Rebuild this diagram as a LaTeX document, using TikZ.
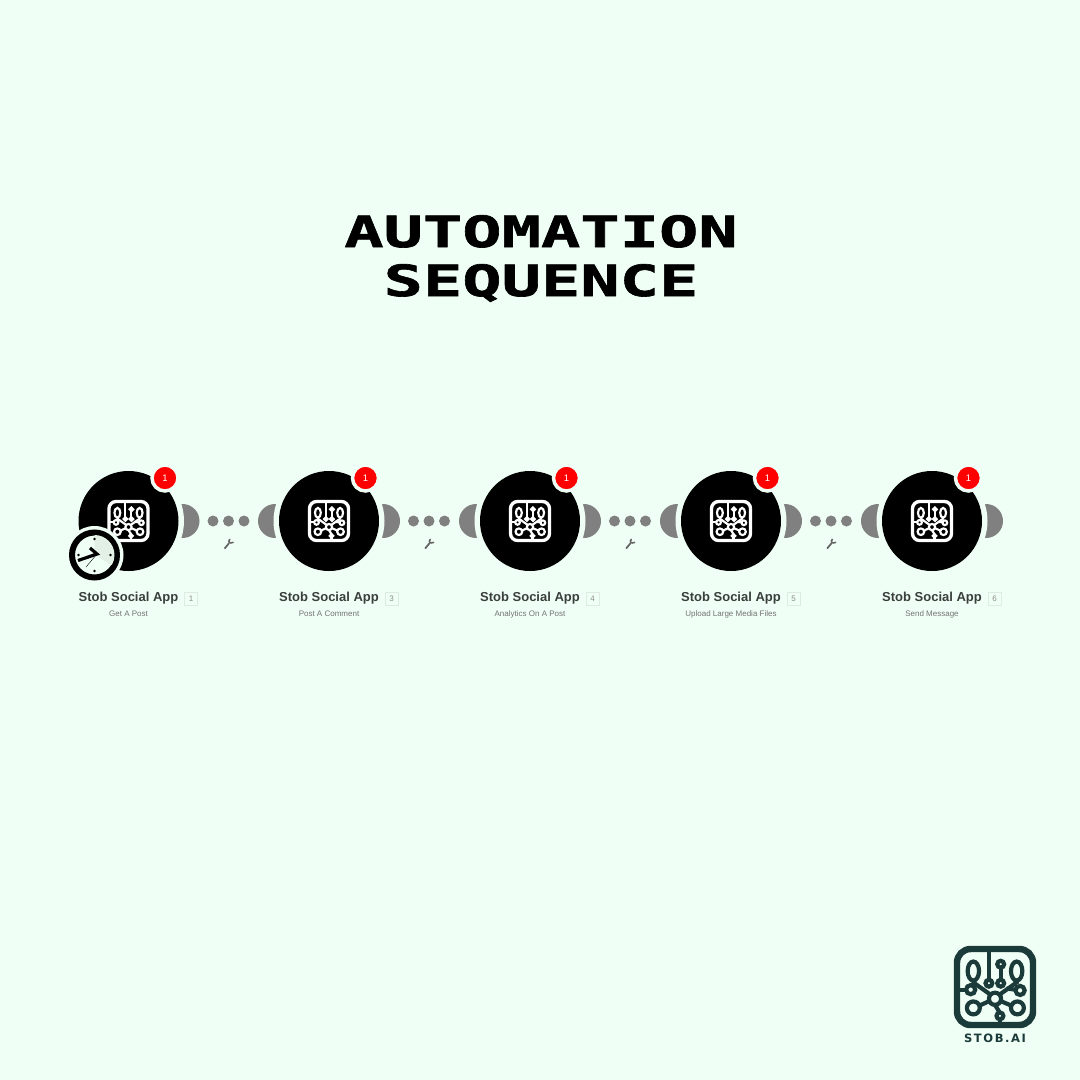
\documentclass[tikz,border=0pt]{standalone}
\usepackage{fontspec}
\setmainfont{Liberation Sans}
\newfontfamily\titlefont[FakeStretch=1.52,FakeBold=1.5]{DejaVu Sans Mono Bold}
\newfontfamily\logofont[LetterSpace=14]{DejaVu Sans Bold}
\usetikzlibrary{positioning}

\definecolor{bgmint}{HTML}{F0FFF5}
\definecolor{moongray}{HTML}{808080}
\definecolor{badgered}{HTML}{FF0000}
\definecolor{logogreen}{HTML}{1B3A3A}
\definecolor{labelgray}{HTML}{3A3F3D}

\tikzset{
  module/.style={circle, fill=black, inner sep=0pt, minimum size=100pt},
  halo/.style={circle, fill=bgmint, inner sep=0pt, minimum size=111pt},
  moon/.style={circle, fill=moongray, inner sep=0pt, minimum size=34pt},
  linkdot/.style={circle, fill=moongray, inner sep=0pt, minimum size=11pt},
  badge/.style={circle, fill=badgered, draw=bgmint, line width=3.5pt, inner sep=0pt, minimum size=26pt,
                text=white, font=\fontsize{9.5}{10}\selectfont},
  appname/.style={font=\bfseries\fontsize{13}{14}\selectfont, text=labelgray, inner sep=0pt},
  numbox/.style={draw=black!8!bgmint, line width=0.8pt, inner sep=0pt, minimum size=13pt,
                 font=\fontsize{8}{9}\selectfont, text=black!45},
  sublabel/.style={font=\fontsize{8}{9}\selectfont, text=black!55, inner sep=0pt},
  titletext/.style={font=\titlefont\fontsize{43}{46}\selectfont, text=black, inner sep=0pt, anchor=base},
}

% x, y, half size, colour
\newcommand{\chipicon}[4]{
  \begin{scope}[shift={(#1,#2)}, scale=#3, draw=#4, line width=0.11*#3 pt, fill=none]
    \draw[line width=0.17*#3 pt, rounded corners=0.36*#3 pt] (-1,-1) rectangle (1,1);
    \draw (-0.57,-0.42) ellipse (0.15 and 0.25);
    \draw (0.57,-0.42) ellipse (0.15 and 0.25);
    \draw (-0.16,-1) -- (-0.16,-0.18);
    \draw (-0.16,-0.1) circle (0.09);
    \draw (0.15,-0.6) circle (0.09);
    \draw (0.15,-0.51) -- (0.15,-0.19);
    \draw (0.15,-0.1) circle (0.09);
    \draw (-0.57,-0.17) -- (-0.57,-0.12) -- (-0.12,0.2);
    \draw (0.57,-0.17) -- (0.57,-0.12) -- (0.12,0.2);
    \draw (0,0.31) circle (0.16);
    \draw (-1,0.07) -- (-0.76,0.07);
    \draw (-0.64,0.07) circle (0.12);
    \draw (0.66,0.09) circle (0.12);
    \draw (0.54,0.07) -- (0.3,0.04);
    \draw (-0.57,0.55) circle (0.17);
    \draw (0.59,0.55) circle (0.17);
    \draw (-0.41,0.49) -- (-0.15,0.37);
    \draw (0.43,0.49) -- (0.15,0.37);
    \draw (0,0.47) -- (0.13,0.68);
    \draw (0.13,0.76) circle (0.09);
    \draw (0.13,0.85) -- (0.13,1);
  \end{scope}
}

% small spanner under a link
\newcommand{\spanner}[2]{
  \begin{scope}[shift={(#1,#2)}, draw=black!60, line cap=round]
    \draw[line width=1.8pt] (-3.6,4.2) -- (0.2,-0.4);
    \draw[line width=1.6pt] (1.3,-4.6) .. controls (-0.6,-2.5) and (0.5,0.2) .. (4.6,-1.6);
  \end{scope}
}

\begin{document}
\begin{tikzpicture}[x=1pt, y=-1pt]
\fill[bgmint] (0,0) rectangle (1080,1080);
\useasboundingbox (0,0) rectangle (1080,1080);

\node[titletext] (title1) at (541,247) {AUTOMATION};
\node[titletext] (title2) at (541,296) {SEQUENCE};

\foreach \i/\x/\num/\sub in {1/128.5/1/Get A Post, 2/329/3/Post A Comment, 3/530/4/Analytics On A Post,
                             4/731/5/Upload Large Media Files, 5/932/6/Send Message} {
  \ifnum\i>1
    \node[moon] (left\i) at (\x-54,521) {};
  \fi
  \node[moon] (right\i) at (\x+54,521) {};
  \node[halo] (halo\i) at (\x,521) {};
  \node[module] (app\i) at (\x,521) {};
  \chipicon{\x}{521}{19.5}{white}
  \node[badge] (badge\i) at (\x+36.5,478) {1};
  \node[appname] (name\i) at (\x,598.5) {Stob Social App};
  \node[numbox] (num\i) at (\x+62.5,598.5) {\num};
  \node[sublabel] (sub\i) at (\x,614) {\sub};
}

\foreach \i/\x in {1/128.5, 2/329, 3/530, 4/731} {
  \node[linkdot] (dot\i a) at (\x+84.5,521) {};
  \node[linkdot] (dot\i b) at (\x+100,521) {};
  \node[linkdot] (dot\i c) at (\x+115.5,521) {};
  \spanner{\x+100}{544}
}

\begin{scope}
  \node[circle, fill=bgmint, inner sep=0pt, minimum size=58pt] (clockhalo) at (94.5,555) {};
  \node[circle, fill=bgmint, draw=black, line width=6pt, inner sep=0pt, minimum size=45pt] (clock) at (94.5,555) {};
  \fill[black!6!bgmint] (94.5,555) -- (94.5,535) arc[start angle=-90, end angle=30, radius=20] -- cycle;
  \foreach \a in {0,90,180,270}
    \fill[black] (94.5,555) ++(\a:16) circle (1.4);
  \draw[black, line width=3.2pt] (78,560.5) -- (97,554) -- (90,548);
  \draw[black, line width=0.4pt] (97,554) -- (86,567);
\end{scope}

\chipicon{995}{987}{38}{logogreen}
\node[font=\logofont\fontsize{11.5}{12}\selectfont, text=logogreen, inner sep=0pt] (logotext) at (995,1038) {STOB.AI};
\end{tikzpicture}
\end{document}
